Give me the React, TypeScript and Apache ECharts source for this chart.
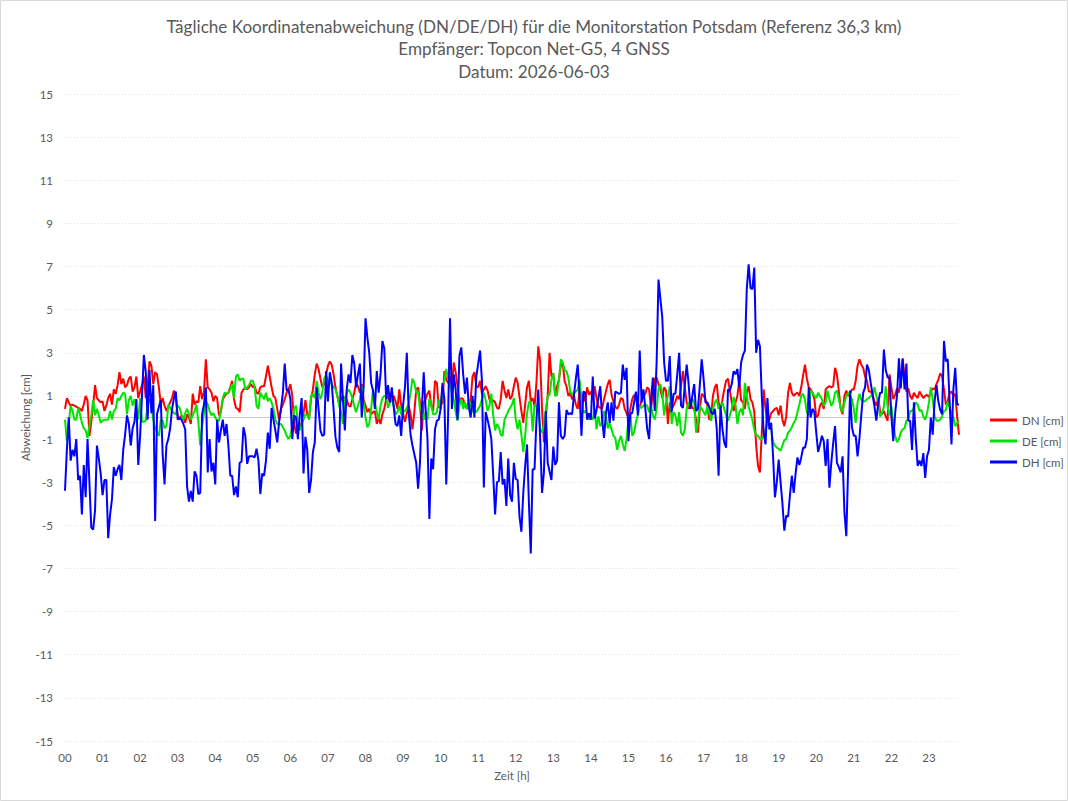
import React, { useEffect, useRef } from 'react';
import * as echarts from 'echarts';

const titleLines = [
  'Tägliche Koordinatenabweichung (DN/DE/DH) für die Monitorstation Potsdam (Referenz 36,3 km)',
  'Empfänger: Topcon Net-G5, 4 GNSS',
  'Datum: 2026-06-03',
];
const seriesNames = ['DN [cm]', 'DE [cm]', 'DH [cm]'];
const seriesColors = ['#ff0000', '#00e400', '#0000ff'];
const yTickValues = [-15, -13, -11, -9, -7, -5, -3, -1, 1, 3, 5, 7, 9, 11, 13, 15];
const zeroLine = [0];
const xAxisName = 'Zeit [h]';
const yAxisName = 'Abweichung [cm]';

// 3-minute epochs, 00:00 .. 23:48
const pointsPerHour = 20;
const timeCategories: string[] = [];
for (let i = 0; i < 477; i++) {
  const h = Math.floor(i / pointsPerHour);
  const m = (i % pointsPerHour) * 3;
  timeCategories.push(String(h).padStart(2, '0') + ':' + String(m).padStart(2, '0'));
}

const dnValues = [
  0.4, 0.9, 0.7, 0.55, 0.6, 0.55, 0.5, 0.45, 0.4, 0.3, 0.6, 1.0, 0.8, -0.85, -0.2, 0.55, 1.5, 0.9, 0.8, 0.7,
  0.75, 0.3, 0.55, 0.9, 1.1, 0.6, 1.3, 1.1, 1.5, 2.1, 1.55, 1.8, 1.4, 1.5, 1.8, 1.9, 1.2, 1.4, 1.9, 0.9,
  1.2, 1.5, 1.9, 0.9, 1.5, 2.6, 2.4, 1.55, 2.1, 2.0, 1.4, 0.6, 0.9, 0.55, 0.3, 0.5, 0.7, 0.9, 1.25, 0.9,
  0.1, -0.1, 0.1, 0.0, -0.25, 0.15, 0.0, -0.3, 1.1, 0.6, 0.75, 0.7, 1.45, 0.85, 1.2, 2.7, 1.4, 1.3, 1.15, 0.75,
  1.0, 0.9, 0.1, 0.25, 0.85, 1.0, 1.1, 1.15, 1.4, 1.7, 0.85, 0.45, 0.4, 0.25, 1.15, 1.3, 1.4, 1.3, 1.4, 1.55,
  1.4, 1.45, 1.15, 1.1, 1.4, 1.45, 1.45, 1.9, 2.4, 1.9, 1.4, 1.0, 0.9, 0.4, -0.1, 0.4, 0.6, 0.85, 1.15, 1.3,
  1.55, 1.0, -0.3, -0.75, -0.25, -0.4, -0.25, 0.2, 0.8, 0.15, 0.0, 0.85, 1.3, 2.0, 2.5, 2.25, 1.8, 1.4, 1.6, 2.0,
  2.4, 2.6, 2.45, 2.0, 1.4, 1.0, 0.6, 0.85, 1.0, 0.85, 0.85, 0.55, 0.5, 0.85, 1.15, 1.6, 1.45, 1.15, 1.55, 0.85,
  0.55, 0.25, 0.4, 0.15, 0.25, 0.3, -0.3, 0.0, -0.3, 0.15, 0.4, 0.85, 1.0, 0.7, 0.85, 1.0, 0.75, 0.4, 1.3, 0.55,
  0.2, -0.2, 0.2, 0.55, 0.15, -0.55, 0.25, 1.3, 1.4, 0.7, -0.6, 0.7, 0.85, 1.1, 1.25, 0.55, 0.3, 1.7, 1.6, 0.45,
  0.55, 0.7, 2.15, 1.75, 1.6, 1.9, 1.45, 2.55, 2.1, 1.45, 0.7, 0.9, 0.85, 0.55, 0.4, 0.55, 0.85, 1.9, 2.1, 1.45,
  1.4, 1.7, 1.1, 1.3, 1.45, 1.25, 0.85, 0.7, 0.8, 0.7, 0.45, 0.4, 0.85, 1.7, 1.25, 0.9, 1.3, 0.85, 1.0, 1.45,
  1.85, 1.6, 0.95, 0.3, -0.25, 0.6, 1.4, 1.7, 0.75, 0.9, 0.5, 1.6, 3.3, 2.6, 0.4, -1.15, 0.0, 1.0, 3.0, 1.9,
  2.05, 1.0, 1.45, 1.75, 2.4, 2.55, 1.7, 1.45, 1.0, 1.15, 0.85, 1.0, 0.6, 0.4, 1.3, 1.0, 1.05, 0.75, 1.4, 1.05,
  1.2, 0.85, 1.45, 0.9, 0.5, 0.45, 0.4, 0.85, 1.2, 1.55, 1.75, 1.05, 0.75, 0.5, 0.4, 0.6, 0.9, 0.85, 0.4, 0.2,
  0.0, 0.4, 0.85, 1.05, 0.9, 0.6, 0.45, 0.8, 1.0, 1.1, 1.4, 1.3, 0.4, 1.15, 1.8, 1.85, 1.55, 1.3, 0.9, 1.4,
  1.25, -0.3, 0.7, 0.4, 0.55, 0.75, 1.0, 0.85, 1.45, 2.15, 1.4, 0.7, 0.4, 0.7, 0.45, 0.4, -0.1, -0.7, 0.4, 1.1,
  1.0, 0.85, 0.55, -0.1, 0.05, 1.0, 1.4, 1.55, 0.7, 0.4, 0.8, 1.3, 1.7, 1.8, 1.25, 0.7, 0.3, 0.7, 1.0, 1.7,
  0.8, 0.7, 0.4, 1.15, 1.45, 0.85, 0.7, 0.25, -1.3, -2.25, -2.55, -0.7, 1.3, 0.4, -0.25, -0.1, 0.2, 0.3, 0.4, 0.45,
  0.1, 0.55, -0.1, -0.4, 0.05, 1.15, 1.6, 1.15, 1.0, 1.1, 1.15, 1.0, 1.4, 1.95, 2.45, 1.8, 1.4, 1.3, 1.15, 0.85,
  0.0, 0.1, 0.55, 0.7, 0.4, 1.3, 1.4, 1.45, 1.4, 1.45, 2.3, 2.0, 1.25, 0.4, 0.15, 1.0, 1.25, 1.0, 1.1, 1.3,
  1.3, 1.7, 2.4, 2.7, 2.45, 2.3, 1.9, 1.7, 1.2, 1.2, 1.05, 0.75, 0.55, 0.9, 0.3, 0.15, 0.3, 0.05, -0.15, 2.0,
  1.4, 0.85, 1.05, 1.35, 1.15, 1.75, 2.75, 1.9, 1.2, 1.35, 1.0, 0.85, 1.15, 1.0, 0.9, 1.2, 1.05, 0.9, 1.0, 1.05,
  0.95, 1.2, 1.35, 1.3, 1.55, 1.75, 2.05, 1.9, 1.3, 0.6, 0.75, 1.15, 1.2, 1.0, 1.1, 0.05, -0.8,
];

const deValues = [
  -0.1, -1.1, -0.3, 0.55, 0.3, -0.1, -0.1, 0.45, 0.15, -0.25, -0.5, -0.6, -0.95, -0.4, 0.1, 0.8, 0.1, 0.4, 0.1, -0.25,
  -0.15, -0.1, -0.1, -0.1, 0.3, -0.1, 0.3, 0.4, 0.9, 0.8, 1.0, 1.15, 1.1, 0.15, 0.8, 1.0, 0.55, 0.85, 0.4, -0.1,
  0.9, -0.2, -0.2, -0.15, 0.6, 0.85, 0.55, -0.1, -0.5, -0.7, -0.85, -0.1, -0.15, -0.5, -0.4, 0.6, 0.45, 0.3, 0.2, 0.15,
  0.55, 0.45, 0.15, -0.1, 0.2, 0.4, 0.15, -0.1, 0.1, 0.3, 0.6, -0.2, -1.3, -0.4, 0.2, 0.75, 0.6, 0.3, 0.1, 0.2,
  0.0, -0.15, -0.15, 0.3, 0.9, 1.15, 1.1, 1.15, 1.3, 1.55, 0.9, 1.9, 2.0, 1.7, 1.8, 1.8, 1.3, 1.4, 1.5, 1.7,
  1.7, 1.4, 0.55, 0.4, 1.15, 1.0, 0.85, 1.15, 0.75, 0.9, 0.7, 0.4, -0.1, -0.3, -0.3, -0.3, -0.45, -0.6, -0.85, -1.0,
  -0.85, -0.4, 0.4, 0.55, -0.25, -0.6, -0.3, -0.1, 0.15, 0.1, -0.1, 1.0, 1.1, 0.9, 1.7, 1.15, 0.85, 1.15, 1.8, 1.95,
  1.7, 1.6, 1.55, 1.4, 1.3, 1.0, 0.55, 0.25, -0.3, 0.85, 1.15, 1.3, 1.15, 0.9, 0.55, 0.25, 0.55, 0.85, 1.45, 0.7,
  0.0, -0.45, -0.3, 0.4, 1.3, 0.7, 0.25, -0.1, 0.55, 0.9, 1.0, 1.0, 0.45, 0.7, 0.85, 0.55, 0.15, 0.25, 0.55, 0.15,
  0.25, 0.3, 0.45, 0.6, 1.15, 1.8, 1.6, 1.15, 1.2, 0.4, 0.3, -0.1, 0.25, -0.1, 0.85, 0.6, 0.15, 0.15, 0.25, 0.85,
  0.4, 1.45, 1.7, 2.25, 1.8, 1.45, 1.15, 0.85, 0.25, -0.15, 0.55, 0.85, 0.4, 0.7, 0.4, 0.85, 0.55, 0.25, 0.3, 0.25,
  0.4, 0.55, 0.85, 1.15, 0.8, 0.3, 0.55, 1.1, 0.1, -0.6, -0.3, -0.45, -0.8, -0.85, -0.1, 0.1, 0.3, 0.45, 0.6, 0.9,
  -0.1, -0.55, -0.1, -0.8, -1.6, -0.85, 0.2, 0.7, 0.75, -0.65, 0.6, 0.5, 0.35, -0.55, -0.7, -0.3, 0.35, 1.0, 1.05, 1.75,
  2.05, 1.0, 1.05, 1.75, 2.7, 2.55, 2.2, 2.15, 1.85, 1.2, 1.05, 1.15, 1.2, 1.3, 1.75, 0.75, 0.2, 0.3, 0.2, -0.1,
  0.05, -0.1, 0.4, -0.55, 0.05, -0.4, -0.25, 0.3, 0.05, -0.5, -0.25, -0.55, -0.85, -0.95, -1.5, -1.1, -0.85, -1.25, -1.55, -1.0,
  -0.1, 0.2, -0.85, -0.7, -0.2, 0.1, 0.5, 0.45, 0.55, 0.6, 0.55, 0.25, 0.55, 0.1, -0.1, 0.4, 1.3, 1.55, 1.15, 0.1,
  0.7, 1.0, 1.45, -0.3, 0.25, 0.1, -0.4, 0.25, -0.7, -0.85, -0.55, 0.4, 0.7, 0.4, 0.85, 0.75, -0.7, -0.25, 0.55, 0.4,
  0.25, 0.1, 0.55, 0.25, -0.15, 0.4, 0.7, 0.85, 0.4, 0.55, 0.7, 0.4, 0.1, -0.15, 0.1, 0.4, 0.95, 0.6, -0.3, 0.25,
  0.4, 0.1, 1.6, 1.0, 0.5, 0.2, -0.1, -0.6, -0.8, -0.85, -1.0, -1.0, -0.85, -0.55, -0.3, -0.25, -0.55, -1.15, -1.3, -1.4,
  -1.45, -1.55, -1.3, -1.05, -1.0, -0.7, -0.6, -0.45, -0.25, -0.1, 0.25, 0.6, 1.0, 1.1, 0.8, 0.25, 0.1, 1.25, 1.15, 1.0,
  0.9, 1.15, 1.0, 0.85, 0.55, 0.7, 1.25, 0.85, 0.55, 0.7, 1.15, 1.25, 0.85, 0.45, 0.25, 0.7, 1.0, 1.15, 1.0, 0.85,
  0.4, -0.25, 0.7, 1.1, 0.8, 0.75, 0.75, 0.85, 0.9, 1.0, 1.0, 1.4, 1.0, 0.7, 0.05, 0.2, 0.5, 1.45, 0.5, 0.1,
  0.5, -0.25, -0.85, -1.15, -1.0, -0.7, -0.55, -0.5, -0.15, -0.1, 0.3, 0.3, 0.45, 0.7, 0.6, 0.3, 0.35, 0.05, -0.1, 0.2,
  0.7, 1.4, 0.85, 0.05, -0.15, -0.15, -0.1, 0.05, 0.3, 0.35, 0.75, 0.45, 0.2, 0.0, -0.4, -0.25, -0.15,
];

const dhValues = [
  -3.4, -1.5, 0.0, -2.0, -1.5, -1.8, -1.0, -2.9, -2.7, -4.5, -2.2, -3.7, -1.0, -3.0, -5.1, -5.2, -4.3, -1.3, -1.9, -2.6,
  -3.6, -2.9, -2.9, -5.6, -4.5, -3.8, -2.3, -2.7, -2.4, -2.2, -2.9, -1.5, -0.8, 0.1, -0.3, -1.3, -0.5, -0.2, 0.85, -2.2,
  -0.85, 1.0, 2.9, 2.1, -0.1, 2.2, 0.2, 1.5, -4.8, 0.15, 0.5, 0.8, -1.7, -3.1, -1.3, -1.0, -0.5, 0.4, 0.9, 1.2,
  -0.1, 0.0, -0.1, -0.3, -0.55, -3.2, -3.9, -3.4, -3.9, -2.5, -2.7, -3.55, -3.5, 0.15, 0.6, 1.4, -2.55, -1.0, -2.5, -2.1,
  -3.1, -0.1, -1.15, -0.6, -0.1, -0.85, -0.3, -1.3, -2.7, -2.7, -3.6, -3.2, -3.7, -2.1, -2.05, -0.45, -0.85, -2.15, -1.8, -1.8,
  -1.8, -1.85, -1.45, -2.0, -3.55, -2.6, -2.7, -2.0, -0.7, -1.45, 0.45, -0.1, -0.6, -1.15, -0.2, 0.4, 1.15, 2.5, 1.25, 1.3,
  0.85, -1.0, 0.1, 0.0, -1.0, 0.1, 0.9, -2.6, -0.9, -1.5, -3.5, -2.9, -1.6, -1.15, 1.4, 0.4, -0.6, -0.85, -0.8, 2.15,
  0.75, 2.1, 1.6, 0.4, -0.9, -1.4, -1.6, 2.5, 0.8, -0.6, 1.3, 2.0, 1.6, 2.9, 2.5, 1.4, 2.0, 2.5, 0.0, 1.4,
  4.6, 3.7, 3.0, 1.6, 1.25, 0.4, 2.15, 1.15, 2.0, 3.55, 3.2, 0.85, 1.5, 0.7, 1.4, 0.5, -0.3, -0.4, 0.1, -0.85,
  0.55, 1.4, 3.0, 0.25, -0.8, -1.3, -1.7, -2.1, -3.3, -2.1, 0.4, 2.1, 0.4, -1.0, -4.7, -1.9, -2.4, -0.55, -0.15, -0.1,
  0.4, 1.6, 0.85, -3.1, 0.1, 4.6, 0.4, 2.0, 1.3, -0.1, 2.85, 3.25, 2.0, 1.1, 1.85, 0.5, 0.0, 1.0, 0.0, 1.9,
  2.5, 3.1, 1.7, -3.25, 0.25, -0.1, -0.5, -1.0, -2.7, -4.5, -3.0, -2.95, -1.6, -3.1, -2.85, -4.1, -1.9, -3.6, -3.9, -2.1,
  -2.85, -2.9, -4.6, -5.3, -3.5, -2.25, -1.25, -3.95, -6.3, -2.4, -2.4, -0.15, 1.3, -1.0, -3.5, -2.55, 0.3, -2.1, -2.5, -2.9,
  -1.35, -2.2, -2.0, 0.7, -0.85, -1.0, -0.85, 0.35, 0.15, 0.2, 0.15, 1.05, 1.8, 2.45, 1.05, -0.85, 1.2, 1.15, -0.1, 0.2,
  -0.1, 1.9, -0.05, 0.35, 0.9, 1.45, -0.1, -0.95, 0.2, 0.7, -0.25, 0.7, -0.15, 1.2, 1.15, 1.1, 1.15, 2.45, 1.75, 2.3,
  -1.1, 0.2, 0.2, 0.7, 1.2, 0.1, 3.1, 0.7, 1.3, 0.4, -0.55, -1.0, 0.75, 1.85, 0.3, 2.55, 6.4, 5.5, 4.65, 2.55,
  1.7, 1.7, 2.85, 0.25, 1.1, 1.1, 2.0, 3.0, 0.55, 0.45, 1.5, 2.45, 1.6, 0.4, 1.0, 1.55, 0.3, 0.4, 1.5, 2.7,
  1.8, 0.7, 0.7, 0.5, 0.25, 0.15, 0.4, -0.5, -2.7, 0.55, -0.5, -1.15, -1.4, 1.3, 1.25, 1.55, 2.15, 2.0, 2.25, 1.4,
  2.55, 2.9, 3.1, 5.95, 7.1, 6.0, 5.95, 6.95, 3.0, 3.6, 3.3, 1.0, -0.7, -1.25, 0.9, -0.55, -0.25, -1.8, -3.7, -3.0,
  -1.95, -3.0, -4.0, -5.25, -4.55, -4.6, -3.6, -2.7, -3.5, -2.6, -1.85, -2.2, -1.85, -1.4, -1.4, -1.0, 1.4, 0.0, 0.4, 0.25,
  -0.7, -1.6, -1.25, -0.85, -1.1, -2.25, -1.0, -3.25, -2.1, -1.2, -0.4, -2.1, -2.3, -2.55, -1.8, -4.4, -5.5, -2.25, 1.25, -0.45,
  -0.85, -0.85, -1.8, -0.95, 0.15, 1.15, 1.4, 2.45, 2.2, 1.6, 1.05, 0.5, -0.15, 0.7, 1.15, 1.15, 3.15, 2.2, 1.85, 1.85,
  0.05, -1.1, 0.2, 1.0, 2.75, 1.35, 2.7, 1.3, 2.5, -0.15, -0.15, -1.5, 0.7, -1.0, -2.25, -2.0, -2.25, -1.65, -2.8, -1.8,
  -1.5, 0.0, -0.8, 0.75, 1.5, 0.75, 0.35, 0.15, 3.55, 2.6, 2.7, 0.75, -1.25, 1.3, 2.3, 0.6, 0.6,
];

const FONT = 'Lato';
const TEXT_COLOR = '#595959';

export default function App() {
  const ref = useRef<HTMLDivElement>(null);

  useEffect(() => {
    if (!ref.current) return;
    const chart = echarts.init(ref.current, null, { renderer: 'svg' });
    const values = [dnValues, deValues, dhValues];
    chart.setOption({
      animation: false,
      backgroundColor: '#ffffff',
      textStyle: { fontFamily: FONT },
      title: {
        text: titleLines.join('\n'),
        left: 'center',
        top: 10,
        textStyle: {
          fontFamily: FONT,
          fontSize: 17.1,
          fontWeight: 'normal',
          color: TEXT_COLOR,
          lineHeight: 22.5,
        },
      },
      legend: {
        data: seriesNames,
        orient: 'vertical',
        left: 985,
        top: 409,
        itemWidth: 27,
        itemHeight: 3,
        itemGap: 9,
        icon: 'rect',
        textStyle: { fontFamily: FONT, fontSize: 11.5, color: TEXT_COLOR },
      },
      grid: { left: 65, right: 109, top: 94, bottom: 60, containLabel: false },
      xAxis: {
        type: 'category',
        data: timeCategories,
        boundaryGap: false,
        name: xAxisName,
        nameLocation: 'middle',
        nameGap: 28,
        nameMoveOverlap: false,
        nameTextStyle: { fontFamily: FONT, fontSize: 11.5, color: TEXT_COLOR },
        axisLine: { show: false, onZero: false },
        axisTick: { show: false },
        splitLine: { show: false },
        axisLabel: {
          interval: pointsPerHour - 1,
          formatter: (v: string) => v.slice(0, 2),
          color: TEXT_COLOR,
          fontFamily: FONT,
          fontSize: 11.5,
          margin: 10,
        },
      },
      yAxis: [
        {
          type: 'value',
          min: -15,
          max: 15,
          name: yAxisName,
          nameLocation: 'middle',
          nameGap: 34,
          nameMoveOverlap: false,
          nameTextStyle: { fontFamily: FONT, fontSize: 11.5, color: TEXT_COLOR },
          axisLine: { show: false },
          axisTick: { show: false, customValues: yTickValues },
          axisLabel: {
            customValues: yTickValues,
            color: TEXT_COLOR,
            fontFamily: FONT,
            fontSize: 11.5,
            margin: 12,
          },
          splitLine: { show: true, lineStyle: { color: '#dedede', type: [1, 2], width: 1 } },
        },
        {
          type: 'value',
          min: -15,
          max: 15,
          position: 'left',
          axisLine: { show: false },
          axisTick: { show: false, customValues: zeroLine },
          axisLabel: { show: false, customValues: zeroLine },
          splitLine: { show: true, lineStyle: { color: '#c8c8c8', type: 'solid', width: 1 } },
        },
      ],
      graphic: [
        {
          type: 'rect',
          shape: { x: 0.5, y: 0.5, width: 1067, height: 800 },
          style: { fill: 'none', stroke: '#d9d9d9', lineWidth: 1 },
          silent: true,
        },
      ],
      series: seriesNames.map((name, i) => ({
        name,
        type: 'line',
        data: values[i],
        yAxisIndex: 0,
        symbol: 'none',
        showSymbol: false,
        color: seriesColors[i],
        lineStyle: { color: seriesColors[i], width: 2 },
        z: 2 + i,
      })),
    });
    return () => chart.dispose();
  }, []);

  return (
    <div
      ref={ref}
      style={{ position: 'absolute', left: 0, top: 0, width: 1068, height: 801, background: '#fff' }}
    />
  );
}
